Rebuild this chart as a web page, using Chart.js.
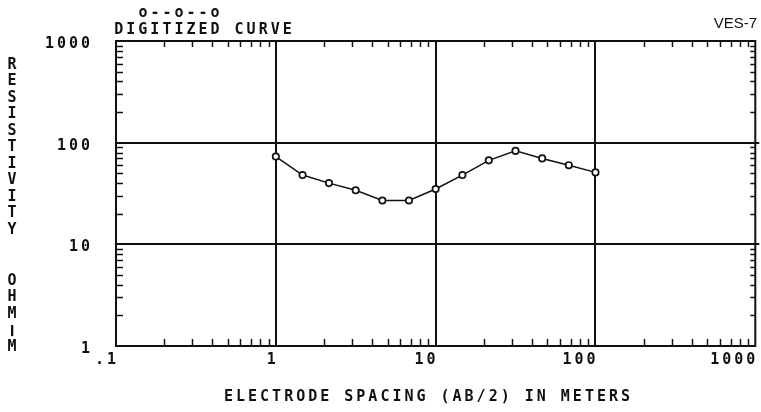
<!DOCTYPE html>
<html>
<head>
<meta charset="utf-8">
<script src="https://cdn.jsdelivr.net/npm/chart.js@4/dist/chart.umd.min.js"></script>
<style>
  html, body { margin: 0; padding: 0; background: #fff; }
</style>
</head>
<body>
<canvas id="c" width="761" height="412"></canvas>
<script>
// Sounding curve: half electrode spacing AB/2 (m) vs apparent resistivity (ohm-m)
const spacing = [1, 1.47, 2.15, 3.16, 4.64, 6.81, 10, 14.7, 21.5, 31.6, 46.4, 68.1, 100];
const resistivity = [73, 48, 40, 34, 27, 27, 35, 48, 67, 83, 70, 60, 51];

const xTickValues = [0.1, 1, 10, 100, 1000];
const xTickLabels = ['.1', '1', '10', '100', '1000'];
const yTickValues = [1, 10, 100, 1000];
const yTickLabels = ['1', '10', '100', '1000'];
const xGridValues = [1, 10, 100];
const yGridValues = [10, 100];
const xDecades = [0.1, 1, 10, 100];
const yDecades = [1, 10, 100];
const minorSteps = [2, 3, 4, 5, 6, 7, 8, 9];

const legendText = 'o--o--o';
const curveTitle = 'DIGITIZED CURVE';
const stationName = 'VES-7';
const xTitle = 'ELECTRODE SPACING (AB/2) IN METERS';
const yTitleTop = 'RESISTIVITY';
const yTitleBottom = 'OHM-M';

const INK = '#111';
const MONO = '"DejaVu Sans Mono", "Liberation Mono", monospace';
const TRACK = 3; // letter spacing of the plotter lettering, px

// Frame, heavy decade lines and inward minor ticks, drawn under the curve
const framePlugin = {
  id: 'frame',
  beforeDatasetsDraw(chart) {
    const { ctx, chartArea: a, scales: { x, y } } = chart;
    ctx.save();
    ctx.strokeStyle = INK;
    ctx.lineCap = 'butt';

    ctx.lineWidth = 2;
    xGridValues.forEach(v => {
      const px = Math.round(x.getPixelForValue(v));
      ctx.beginPath(); ctx.moveTo(px, a.top); ctx.lineTo(px, a.bottom); ctx.stroke();
    });
    yGridValues.forEach(v => {
      const py = Math.round(y.getPixelForValue(v));
      ctx.beginPath(); ctx.moveTo(a.left, py); ctx.lineTo(a.right + 4, py); ctx.stroke();
    });

    ctx.lineWidth = 1.5;
    xDecades.forEach(d => minorSteps.forEach(k => {
      const px = Math.round(x.getPixelForValue(d * k)) + 0.5;
      ctx.beginPath(); ctx.moveTo(px, a.bottom); ctx.lineTo(px, a.bottom - 7); ctx.stroke();
      ctx.beginPath(); ctx.moveTo(px, a.top); ctx.lineTo(px, a.top + 6); ctx.stroke();
    }));
    yDecades.forEach(d => minorSteps.forEach(k => {
      const py = Math.round(y.getPixelForValue(d * k)) + 0.5;
      ctx.beginPath(); ctx.moveTo(a.left, py); ctx.lineTo(a.left + 7, py); ctx.stroke();
      ctx.beginPath(); ctx.moveTo(a.right, py); ctx.lineTo(a.right - 5, py); ctx.stroke();
    }));

    ctx.lineWidth = 2;
    ctx.strokeRect(a.left, a.top, a.right - a.left, a.bottom - a.top);
    ctx.restore();
  }
};

function spacedText(ctx, text, cx, cy) {
  ctx.letterSpacing = TRACK + 'px';
  const w = ctx.measureText(text).width - TRACK;
  ctx.textAlign = 'left';
  ctx.fillText(text, cx - w / 2, cy);
}

// Headings, axis titles and station name
const labelsPlugin = {
  id: 'labels',
  beforeDraw(chart) {
    // wide letter spacing for the axis tick labels
    chart.ctx.letterSpacing = TRACK + 'px';
  },
  afterDraw(chart) {
    const { ctx } = chart;
    ctx.save();
    ctx.fillStyle = INK;
    ctx.textBaseline = 'middle';
    ctx.font = 'bold 15px ' + MONO;
    spacedText(ctx, legendText, 179, 13);
    spacedText(ctx, curveTitle, 203, 30);
    spacedText(ctx, xTitle, 427, 397);

    ctx.letterSpacing = '0px';
    ctx.textAlign = 'center';
    [...yTitleTop].forEach((ch, i) => ctx.fillText(ch, 12, 65 + i * 16.5));
    [...yTitleBottom].forEach((ch, i) => {
      const cy = 281 + i * 16.5;
      if (ch === '-') {
        // the hyphen is set upright in the stacked title
        ctx.save();
        ctx.translate(12, cy);
        ctx.rotate(Math.PI / 2);
        ctx.scale(2.4, 1.1);
        ctx.fillText(ch, 0, 0);
        ctx.restore();
      } else {
        ctx.fillText(ch, 12, cy);
      }
    });

    ctx.font = '15px "Liberation Sans", Arial, sans-serif';
    ctx.textAlign = 'right';
    ctx.fillText(stationName, 757, 24);
    ctx.restore();
  }
};

new Chart(document.getElementById('c'), {
  type: 'line',
  data: {
    datasets: [{
      data: spacing.map((s, i) => ({ x: s, y: resistivity[i] })),
      borderColor: INK,
      borderWidth: 1.5,
      pointRadius: 3.2,
      pointBorderWidth: 1.7,
      pointBorderColor: INK,
      pointBackgroundColor: '#fff',
      tension: 0
    }]
  },
  options: {
    responsive: false,
    animation: false,
    devicePixelRatio: 1,
    layout: { padding: { left: 0, right: 5, top: 41, bottom: 0 } },
    plugins: { legend: { display: false }, tooltip: { enabled: false }, title: { display: false } },
    scales: {
      x: {
        type: 'logarithmic',
        min: 0.1,
        max: 1000,
        grid: { display: false, drawTicks: false },
        border: { display: false },
        afterBuildTicks: s => { s.ticks = xTickValues.map(v => ({ value: v })); },
        afterFit: s => { s.height = 66; },
        ticks: {
          autoSkip: false,
          maxRotation: 0,
          align: 'end',
          labelOffset: 3,
          padding: 5,
          color: INK,
          font: { family: MONO, size: 15, weight: 'bold' },
          callback: (v, i) => xTickLabels[i]
        }
      },
      y: {
        type: 'logarithmic',
        min: 1,
        max: 1000,
        grid: { display: false, drawTicks: false },
        border: { display: false },
        afterBuildTicks: s => { s.ticks = yTickValues.map(v => ({ value: v })); },
        afterFit: s => { s.width = 116; },
        ticks: {
          autoSkip: false,
          labelOffset: 3,
          padding: 23,
          color: INK,
          font: { family: MONO, size: 15, weight: 'bold' },
          callback: (v, i) => yTickLabels[i]
        }
      }
    }
  },
  plugins: [framePlugin, labelsPlugin]
});
</script>
</body>
</html>
